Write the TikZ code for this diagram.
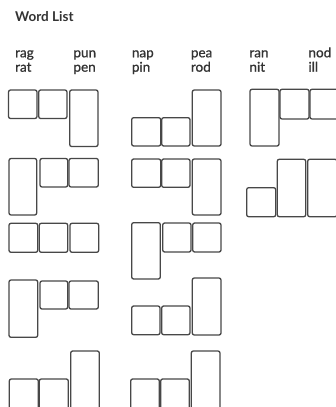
\documentclass[tikz,border=0pt]{standalone}
\usepackage{fontspec}
\setmainfont{Lato}
\newfontfamily\wordfont{Lato}[FakeBold=0.9]
\begin{document}
\begin{tikzpicture}[x=1pt,y=-1pt,
  box/.style={draw=black!72, line width=1.3pt, rounded corners=2pt, fill=white},
  word/.style={anchor=base west, inner sep=0pt, text=black!80, font=\wordfont\fontsize{13.5}{14}\selectfont},
  title/.style={anchor=base west, inner sep=0pt, text=black!80, font=\bfseries\fontsize{13.5}{14}\selectfont}]
\useasboundingbox (0,0) rectangle (336,407);
\clip (0,0) rectangle (336,407);
\fill[white] (0,0) rectangle (336,407);
% title and words
\node[title] (t) at (15,21.7) {Word List};
\node[word] (w1) at (15,57.3) {rag};
\node[word] (w2) at (15,71.7) {rat};
\node[word] (w3) at (73.3,57.3) {pun};
\node[word] (w4) at (73.3,71.7) {pen};
\node[word] (w5) at (131.7,57.3) {nap};
\node[word] (w6) at (131.7,71.7) {pin};
\node[word] (w7) at (190.7,57.3) {pea};
\node[word] (w8) at (190.7,71.7) {rod};
\node[word] (w9) at (249.3,57.3) {ran};
\node[word] (w10) at (249.3,71.7) {nit};
\node[word] (w11) at (308.3,57.3) {nod};
\node[word] (w12) at (308.3,71.7) {ill};
% left column
\draw[box] (8.5,90) rectangle (37,118.5);
\draw[box] (38.7,90) rectangle (67,118.5);
\draw[box] (69.7,90) rectangle (98,146.5);
\draw[box] (9,158.5) rectangle (36.7,215);
\draw[box] (40,158.5) rectangle (67.7,187);
\draw[box] (69,158.5) rectangle (98.3,187);
\draw[box] (9,223.3) rectangle (37.7,252.3);
\draw[box] (39.3,223.3) rectangle (67.7,252.3);
\draw[box] (70,223.3) rectangle (98.7,252.3);
\draw[box] (9,280) rectangle (37.7,337.3);
\draw[box] (40,281) rectangle (67.7,309);
\draw[box] (69,281) rectangle (98.3,309);
\draw[box] (9.3,379) rectangle (38.3,420);
\draw[box] (39.3,379) rectangle (68.3,420);
\draw[box] (70.7,351) rectangle (99.3,420);
% middle column
\draw[box] (131.7,117.7) rectangle (160.7,146);
\draw[box] (161.7,117.7) rectangle (190,146);
\draw[box] (192.3,90) rectangle (221,146);
\draw[box] (131.7,159) rectangle (160.7,187.3);
\draw[box] (161.7,159) rectangle (190,187.3);
\draw[box] (192.3,159) rectangle (221,215);
\draw[box] (131.7,222.7) rectangle (160.3,279);
\draw[box] (162.7,223) rectangle (191,252);
\draw[box] (192.7,223) rectangle (221,252);
\draw[box] (131.7,306) rectangle (160,334.7);
\draw[box] (161.7,306) rectangle (190,334.7);
\draw[box] (192.3,278) rectangle (221,335);
\draw[box] (130.7,379) rectangle (159.3,420);
\draw[box] (160.7,379) rectangle (189.3,420);
\draw[box] (191.3,351) rectangle (220,420);
% right column
\draw[box] (250,89.3) rectangle (279,146);
\draw[box] (280,89.3) rectangle (309,119);
\draw[box] (310,89.3) rectangle (339,119);
\draw[box] (246.7,187.7) rectangle (275.7,216.7);
\draw[box] (277.3,159.3) rectangle (305.7,216.7);
\draw[box] (307.7,159.3) rectangle (337,216.7);
\end{tikzpicture}
\end{document}
